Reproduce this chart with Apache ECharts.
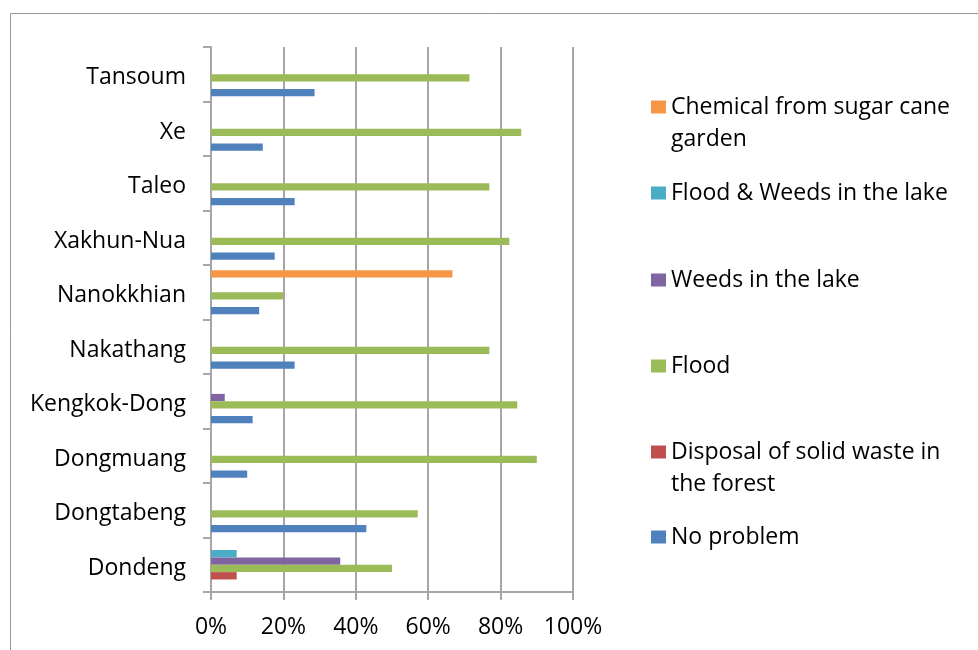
<!DOCTYPE html>
<html>
<head>
<meta charset="utf-8">
<script src="https://cdn.jsdelivr.net/npm/echarts@6/dist/echarts.min.js"></script>
<style>html,body{margin:0;padding:0;background:#fff;}#c{width:978px;height:650px;}</style>
</head>
<body>
<div id="c"></div>
<script>
const categories = ['Dondeng','Dongtabeng','Dongmuang','Kengkok-Dong','Nakathang','Nanokkhian','Xakhun-Nua','Taleo','Xe','Tansoum'];
const noProblem   = [0, 42.9, 10, 11.5, 23.1, 13.3, 17.6, 23.1, 14.3, 28.6];
const disposal    = [7.1, 0, 0, 0, 0, 0, 0, 0, 0, 0];
const flood       = [50, 57.1, 90, 84.6, 76.9, 20, 82.4, 76.9, 85.7, 71.4];
const weeds       = [35.7, 0, 0, 3.8, 0, 0, 0, 0, 0, 0];
const floodWeeds  = [7.1, 0, 0, 0, 0, 0, 0, 0, 0, 0];
const chemical    = [0, 0, 0, 0, 0, 66.7, 0, 0, 0, 0];
const xTicks = [0, 20, 40, 60, 80, 100];

const seriesNames = ['No problem','Disposal of solid waste in the forest','Flood','Weeds in the lake','Flood & Weeds in the lake','Chemical from sugar cane garden'];
const seriesData = [noProblem, disposal, flood, weeds, floodWeeds, chemical];
const colors = ['#4F81BD','#C0504D','#9BBB59','#8064A2','#4BACC6','#F79646'];
const wrapped = {
  'Chemical from sugar cane garden': ' \nChemical from sugar cane\ngarden',
  'Disposal of solid waste in the forest': ' \nDisposal of solid waste in\nthe forest'
};
const legendCenters = {
  'Chemical from sugar cane garden': 107,
  'Flood & Weeds in the lake': 193,
  'Weeds in the lake': 280,
  'Flood': 366,
  'Disposal of solid waste in the forest': 452,
  'No problem': 537
};
const FONT = 'Open Sans';
const FS = 23;
const legends = seriesNames.map(n => {
  const w = !!wrapped[n];
  return {
    data: [n], orient: 'vertical', left: 651, top: w ? legendCenters[n] - 48 : legendCenters[n] - 16,
    padding: 0, itemWidth: 15, itemHeight: 13, itemGap: 0, icon: 'rect', selectedMode: false,
    formatter: name => wrapped[name] || name,
    textStyle: { fontFamily: FONT, fontSize: FS, color: '#000', lineHeight: 32 }
  };
});

// series drawn top-to-bottom within each category in ECharts, so reverse for Excel order
const order = [5, 4, 3, 2, 1, 0];

const chart = echarts.init(document.getElementById('c'), null, {renderer: 'canvas'});
chart.setOption({
  animation: false,
  graphic: [{ type: 'rect', shape: { x: 10.5, y: 13.5, width: 1000, height: 700 }, style: { fill: 'none', stroke: '#999', lineWidth: 1 }, silent: true, z: -1 }],
  legend: legends,
  grid: { left: 211, right: 405, top: 47, bottom: 58, containLabel: false },
  xAxis: {
    type: 'value', min: 0, max: 100, interval: 20,
    axisLine: { show: true, lineStyle: { color: '#a6a6a6', width: 2 } },
    axisTick: { show: true, length: 8, lineStyle: { color: '#a6a6a6', width: 2 } },
    splitLine: { show: true, lineStyle: { color: '#a6a6a6', width: 2 } },
    axisLabel: { fontFamily: FONT, fontSize: FS, color: '#000', margin: 24, formatter: v => xTicks.includes(v) ? v + '%' : '' }
  },
  yAxis: {
    type: 'category', data: categories,
    axisLine: { show: true, lineStyle: { color: '#a6a6a6', width: 2 } },
    axisTick: { show: true, length: 8, inside: false, lineStyle: { color: '#a6a6a6', width: 2 } },
    axisLabel: { fontFamily: FONT, fontSize: FS, color: '#000', margin: 25, verticalAlign: 'top', lineHeight: 7 }
  },
  series: order.map(i => ({
    name: seriesNames[i], type: 'bar', data: seriesData[i],
    itemStyle: { color: colors[i] },
    barGap: '0%', barCategoryGap: '19%'
  }))
});
</script>
</body>
</html>
